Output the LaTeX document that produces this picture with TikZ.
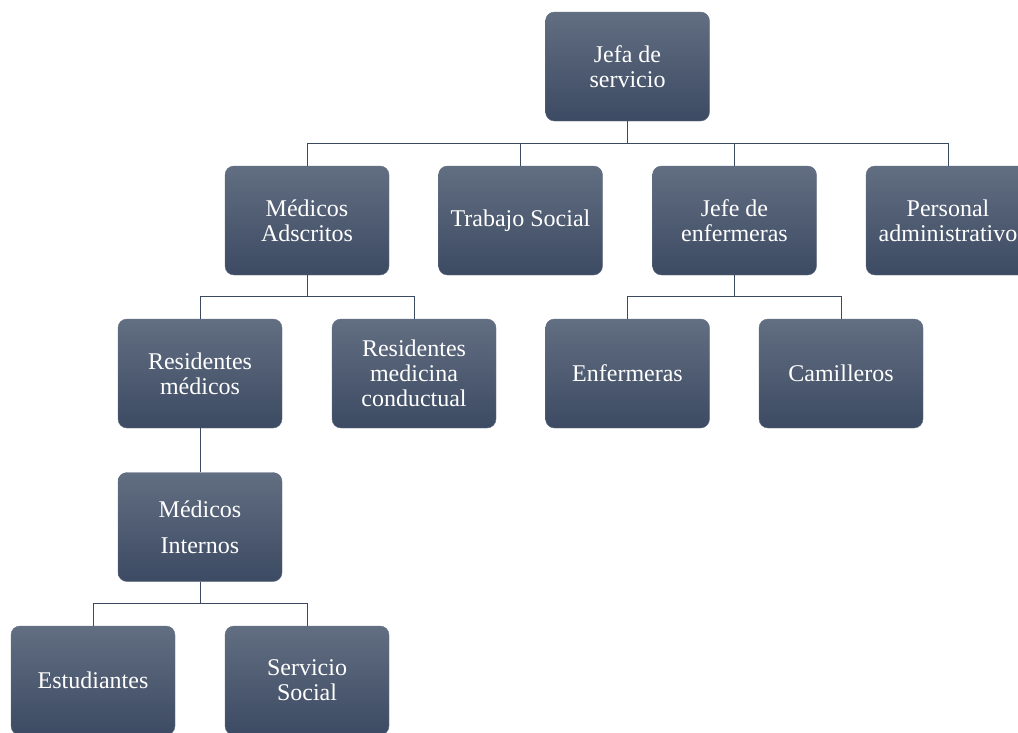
\documentclass[tikz,border=0pt]{standalone}
\usepackage{fontspec}
\setmainfont{Liberation Serif}
\definecolor{boxtop}{HTML}{626E81}
\definecolor{boxbot}{HTML}{3C4A63}
\definecolor{linec}{HTML}{3B4A5F}
\begin{document}
\begin{tikzpicture}[x=1pt,y=-1pt,
  orgbox/.style={rounded corners=9pt, top color=boxtop, bottom color=boxbot, draw=boxbot!80!white, line width=0.4pt,
    minimum width=164pt, minimum height=109pt, inner sep=0pt, align=center, text=white,
    font=\fontsize{24}{25}\selectfont},
  conn/.style={draw=linec, line width=1pt}]
\useasboundingbox (0,0) rectangle (1018,732);
\node[orgbox] (jefa) at (627.5,66.5) {Jefa de\\servicio};
\node[orgbox] (adsc) at (307,220.5) {Médicos\\Adscritos};
\node[orgbox] (trab) at (520.5,220.5) {Trabajo Social};
\node[orgbox] (jenf) at (734.5,220.5) {Jefe de\\enfermeras};
\node[orgbox] (pers) at (948,220.5) {Personal\\administrativo};
\node[orgbox] (resm) at (200,373.5) {Residentes\\médicos};
\node[orgbox] (resc) at (414,373.5) {Residentes\\medicina\\conductual};
\node[orgbox] (enf) at (627.5,373.5) {Enfermeras};
\node[orgbox] (cam) at (841,373.5) {Camilleros};
\node[orgbox, font=\fontsize{24}{36}\selectfont] (mint) at (200,527) {Médicos\\Internos};
\node[orgbox] (est) at (93,680.5) {Estudiantes};
\node[orgbox] (ss) at (307,680.5) {Servicio\\Social};
\coordinate (b1) at (0,143);
\coordinate (b2) at (0,296);
\coordinate (b4) at (0,603);
\draw[conn] (jefa.south) -- (jefa.south |- b1);
\foreach \n in {adsc,trab,jenf,pers} \draw[conn] (jefa.south |- b1) -| (\n.north);
\draw[conn] (adsc.south) -- (adsc.south |- b2);
\foreach \n in {resm,resc} \draw[conn] (adsc.south |- b2) -| (\n.north);
\draw[conn] (jenf.south) -- (jenf.south |- b2);
\foreach \n in {enf,cam} \draw[conn] (jenf.south |- b2) -| (\n.north);
\draw[conn] (resm.south) -- (mint.north);
\draw[conn] (mint.south) -- (mint.south |- b4);
\foreach \n in {est,ss} \draw[conn] (mint.south |- b4) -| (\n.north);
\end{tikzpicture}
\end{document}
